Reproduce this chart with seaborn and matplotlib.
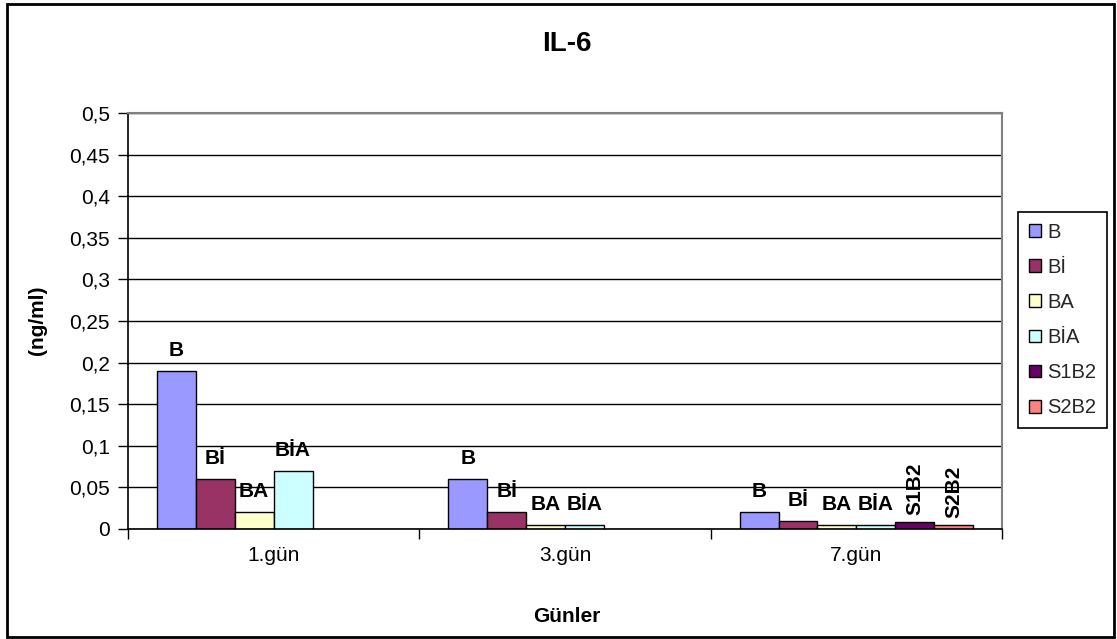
import numpy as np
import pandas as pd
import matplotlib
matplotlib.use("Agg")
import matplotlib.pyplot as plt
import seaborn as sns
from matplotlib.ticker import FuncFormatter, FixedLocator
from matplotlib.patches import Rectangle

days = ["1.gün", "3.gün", "7.gün"]
series = ["B", "Bİ", "BA", "BİA", "S1B2", "S2B2"]
B    = [0.19, 0.06, 0.02]
Bi   = [0.06, 0.02, 0.01]
BA   = [0.02, 0.005, 0.005]
BiA  = [0.07, 0.005, 0.005]
S1B2 = [np.nan, np.nan, 0.008]
S2B2 = [np.nan, np.nan, 0.005]
colors = ["#9999FF", "#993366", "#FFFFCC", "#CCFFFF", "#660066", "#FF8080"]
yticks = [0, 0.05, 0.1, 0.15, 0.2, 0.25, 0.3, 0.35, 0.4, 0.45, 0.5]

values = {"B": B, "Bİ": Bi, "BA": BA, "BİA": BiA, "S1B2": S1B2, "S2B2": S2B2}
rows = []
for s in series:
    for d, v in zip(days, values[s]):
        rows.append({"Gün": d, "Seri": s, "Değer": v})
df = pd.DataFrame(rows)

sns.set_theme(style="white")
plt.rcParams['font.family'] = ['Liberation Sans', 'DejaVu Sans']

FS = 15
W, H = 1117, 639
fig = plt.figure(figsize=(W / 100, H / 100), dpi=100)
ax = fig.add_axes([128 / W, 1 - 529 / H, (1002 - 128) / W, (529 - 113) / H])

sns.barplot(data=df, x="Gün", y="Değer", hue="Seri", order=days, hue_order=series,
            palette=dict(zip(series, colors)), saturation=1, edgecolor="black",
            linewidth=1, errorbar=None, ax=ax, legend=True)

# data labels: series name above each bar
for cont, s in zip(ax.containers, series):
    for bar in cont:
        h = bar.get_height()
        if not np.isfinite(h):
            continue
        xc = bar.get_x() + bar.get_width() / 2
        rot = 90 if s.startswith("S") else 0
        off = 5 if rot else 8
        ax.annotate(s, (xc, h), xytext=(0, off), textcoords="offset points",
                    ha="center", va="bottom", rotation=rot, fontsize=FS,
                    fontweight="bold", color="black")

ax.set_ylim(0, 0.5)
ax.set_xlim(-0.5, 2.5)
ax.yaxis.set_major_locator(FixedLocator(yticks))
ax.yaxis.set_major_formatter(FuncFormatter(lambda v, p: f"{v:g}".replace(".", ",")))
ax.grid(axis="y", color="black", linewidth=1)
ax.set_axisbelow(True)
ax.set_xlabel("")
ax.set_ylabel("")

ax.tick_params(axis="y", which="major", left=True, length=7, width=1, color="black",
               direction="out", labelsize=FS, pad=6, labelcolor="black")
ax.tick_params(axis="x", which="major", bottom=True, length=0, labelsize=FS, pad=12,
               labelcolor="black")
ax.set_xticks([-0.5, 0.5, 1.5, 2.5], minor=True)
ax.tick_params(axis="x", which="minor", bottom=True, length=7, width=1, color="black",
               direction="out")

for side in ["left", "bottom"]:
    ax.spines[side].set_color("black")
    ax.spines[side].set_linewidth(1.2)
for side in ["top", "right"]:
    ax.spines[side].set_color("#808080")
    ax.spines[side].set_linewidth(1.5)

handles, labels = ax.get_legend_handles_labels()
ax.legend(handles, labels, loc="center left",
          bbox_to_anchor=(1018 / W, 1 - 320 / H), bbox_transform=fig.transFigure,
          frameon=True, fancybox=False, edgecolor="black", framealpha=1,
          fontsize=14.5, handlelength=0.6, handleheight=0.6, handletextpad=0.3,
          labelspacing=0.8, borderpad=0.55, borderaxespad=0)
ax.get_legend().get_frame().set_linewidth(1.2)

fig.text(567 / W, 1 - 44 / H, "IL-6", ha="center", va="center", fontsize=20,
         fontweight="bold", color="black")
fig.text(38 / W, 1 - 320 / H, "(ng/ml)", ha="center", va="center", rotation=90,
         fontsize=FS, fontweight="bold", color="black")
fig.text(567 / W, 1 - 617 / H, "Günler", ha="center", va="center", fontsize=FS,
         fontweight="bold", color="black")

fig.patches.append(Rectangle((7 / W, 2 / H), (1114 - 7) / W, (635 - 2) / H,
                             transform=fig.transFigure, fill=False,
                             edgecolor="black", linewidth=2))

fig.savefig("out.png", dpi=100)
